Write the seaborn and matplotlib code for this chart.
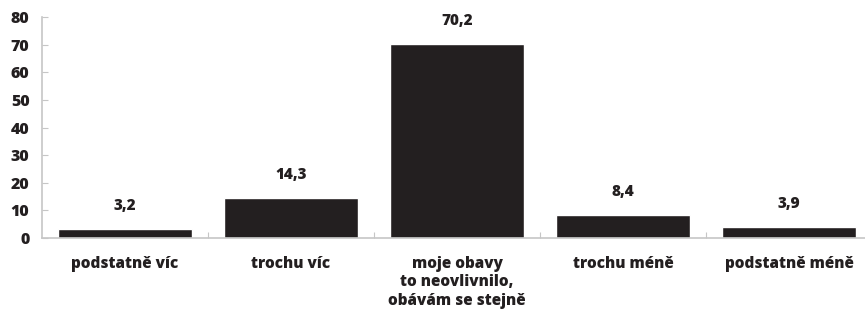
import matplotlib

matplotlib.use("Agg")
import matplotlib.pyplot as plt
import seaborn as sns

categories = [
    "podstatně víc",
    "trochu víc",
    "moje obavy\nto neovlivnilo,\nobávám se stejně",
    "trochu méně",
    "podstatně méně",
]
values = [3.2, 14.3, 70.2, 8.4, 3.9]
yticks = [0, 10, 20, 30, 40, 50, 60, 70, 80]

ink = "#231f20"
axis_grey = "#c6c6c6"

sns.set_theme(style="white")
plt.rcParams["font.family"] = ["Open Sans", "DejaVu Sans"]

fs = 11
wt = "heavy"

fig = plt.figure(figsize=(8.65, 3.10), dpi=100)
ax = fig.add_axes([42 / 865, 72 / 310, 1 - 42 / 865, 221 / 310])

sns.barplot(x=categories, y=values, color=ink, saturation=1, width=0.81, ax=ax)

ax.set_ylim(0, 80)
ax.set_xlim(-0.5, 4.5 - 7 / 166)
ax.set_yticks(yticks)
ax.set_yticklabels([str(t) for t in yticks], fontsize=11.5, fontweight=wt, color=ink)
ax.set_xticklabels(categories, fontsize=fs, fontweight=wt, color=ink,
                   linespacing=1.2, va="top")
ax.set_xticks([0.5, 1.5, 2.5, 3.5], minor=True)
ax.tick_params(axis="x", which="major", length=0, pad=13)
ax.tick_params(axis="x", which="minor", length=4, width=0.8, direction="in",
               color=axis_grey, bottom=True)
ax.tick_params(axis="y", length=4.5, width=0.8, direction="in", color=axis_grey,
               left=True, pad=9)
ax.set_xlabel("")
ax.set_ylabel("")

for side in ["top", "right"]:
    ax.spines[side].set_visible(False)
for side in ["left", "bottom"]:
    ax.spines[side].set_color(axis_grey)
    ax.spines[side].set_linewidth(1.2)

ax.bar_label(ax.containers[0], labels=[f"{v:.1f}".replace(".", ",") for v in values],
             padding=11, fontsize=fs, fontweight=wt, color=ink)

fig.savefig("out.png", dpi=100)
